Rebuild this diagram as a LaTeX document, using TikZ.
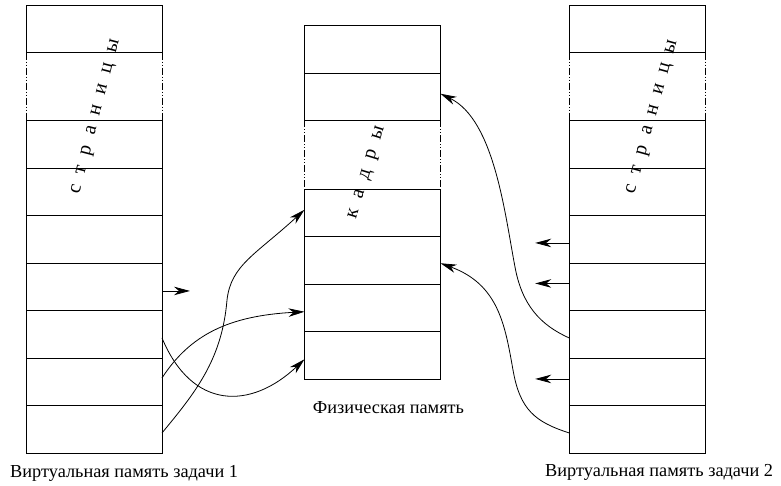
\documentclass[tikz,border=0pt]{standalone}
\usepackage{fontspec}
\setmainfont{Liberation Serif}
\usetikzlibrary{arrows.meta}
\newcommand\lgap{\hspace{11pt}}
\begin{document}
\begin{tikzpicture}[x=1pt,y=-1pt,
 cell/.style={draw,line width=0.9pt,minimum width=136pt,minimum height=47.5pt,inner sep=0pt,outer sep=0pt},
 gapbox/.style={minimum width=136pt,minimum height=68pt,inner sep=0pt,outer sep=0pt},
 sides/.style={line width=0.9pt,dash pattern=on 7pt off 2pt on 1pt off 2pt on 1pt off 2pt},
 link/.style={line width=0.8pt,-{Stealth[length=16pt,width=8.5pt,inset=5pt]}},
 captext/.style={font=\fontsize{18.3}{21}\selectfont,inner sep=0pt},
 vlabel/.style={font=\fontsize{20}{22}\selectfont,inner sep=0pt}]
\useasboundingbox (0,0) rectangle (781,486);
% left column
\node[cell,anchor=north] (L1) at (94,5.2) {};
\node[gapbox,anchor=north] (Ld) at (L1.south) {};
\node[cell,anchor=north] (L2) at (Ld.south) {};
\node[cell,anchor=north] (L3) at (L2.south) {};
\node[cell,anchor=north] (L4) at (L3.south) {};
\node[cell,anchor=north] (L5) at (L4.south) {};
\node[cell,anchor=north] (L6) at (L5.south) {};
\node[cell,anchor=north] (L7) at (L6.south) {};
\node[cell,anchor=north] (L8) at (L7.south) {};
\draw[sides] (Ld.north west) -- (Ld.south west);
\draw[sides] (Ld.north east) -- (Ld.south east);
% middle column
\node[cell,anchor=north] (M1) at (372.5,25.5) {};
\node[cell,anchor=north] (M2) at (M1.south) {};
\node[gapbox,minimum height=68.5pt,anchor=north] (Md) at (M2.south) {};
\node[cell,anchor=north] (M3) at (Md.south) {};
\node[cell,anchor=north] (M4) at (M3.south) {};
\node[cell,anchor=north] (M5) at (M4.south) {};
\node[cell,anchor=north] (M6) at (M5.south) {};
\draw[sides] (Md.north west) -- (Md.south west);
\draw[sides] (Md.north east) -- (Md.south east);
% right column
\node[cell,anchor=north] (R1) at (637.2,5.2) {};
\node[gapbox,anchor=north] (Rd) at (R1.south) {};
\node[cell,anchor=north] (R2) at (Rd.south) {};
\node[cell,anchor=north] (R3) at (R2.south) {};
\node[cell,anchor=north] (R4) at (R3.south) {};
\node[cell,anchor=north] (R5) at (R4.south) {};
\node[cell,anchor=north] (R6) at (R5.south) {};
\node[cell,anchor=north] (R7) at (R6.south) {};
\node[cell,anchor=north] (R8) at (R7.south) {};
\draw[sides] (Rd.north west) -- (Rd.south west);
\draw[sides] (Rd.north east) -- (Rd.south east);
% rotated labels
\node[vlabel,rotate=75.5] (Ltxt) at (96.5,117) {с\lgap т\lgap р\lgap а\lgap н\lgap и\lgap ц\lgap ы};
\node[vlabel,rotate=74.5] (Rtxt) at (653,117) {с\lgap т\lgap р\lgap а\lgap н\lgap и\lgap ц\lgap ы};
\node[vlabel,rotate=73] (Mtxt) at (367.5,173) {к\lgap а\lgap д\lgap р\lgap ы};
% captions
\node[captext,anchor=base west] (Lcap) at (10,477) {Виртуальная память задачи 1};
\node[captext,anchor=base] (Mcap) at (388.5,413) {Физическая память};
\node[captext,anchor=base west] (Rcap) at (545,476) {Виртуальная память задачи 2};
% short arrows
\draw[link] ([yshift=-4pt]L5.east) -- +(28,0);
\draw[link] ([yshift=-3.5pt]R4.west) -- +(-34,0);
\draw[link] ([yshift=3.5pt]R5.west) -- +(-34,0);
\draw[link] ([yshift=3pt]R7.west) -- +(-34,0);
% left curves
\draw[link] ([yshift=-3.5pt]L6.east) .. controls +(30,72) and +(-54,51) .. ([yshift=-4pt]M6.west);
\draw[link] ([yshift=4pt]L7.east) .. controls +(28,-43) and +(-76,4) .. ([yshift=-4pt]M5.west);
\draw[link] ([yshift=-3.5pt]L8.east) .. controls +(33,-40) and +(-5,60) .. (227,300)
   .. controls +(4,-35) and +(-49,45) .. ([yshift=3pt]M3.west);
% right curves
\draw[link] ([yshift=-3.5pt]R6.west) .. controls +(-29,-13) and +(7,38) .. (515,267)
   .. controls +(-10,-52) and +(54,26) .. ([yshift=3pt]M2.east);
\draw[link] ([yshift=-3.5pt]R8.west) .. controls +(-34,-11) and +(7,40) .. (513,370)
   .. controls +(-8,-45) and +(58,21) .. ([yshift=-3pt]M4.east);
\end{tikzpicture}
\end{document}
